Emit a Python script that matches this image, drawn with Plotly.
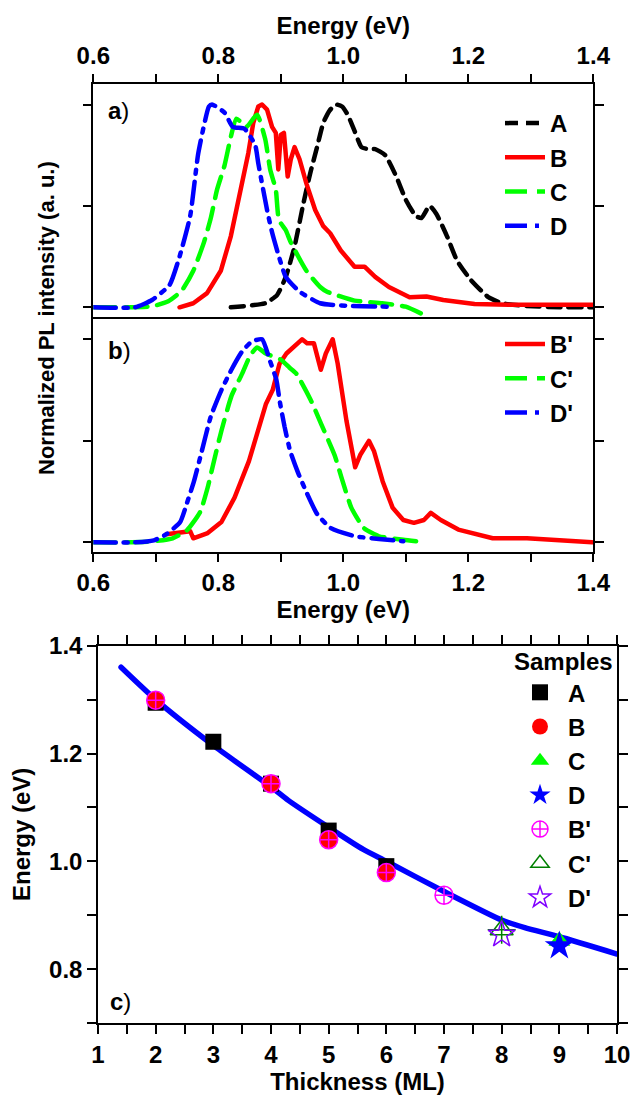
import plotly.graph_objects as go

W, H = 632, 1095

# ---------------- Panel a data ----------------
A_E = [0.82, 0.875, 0.894, 0.908, 0.922, 0.936, 0.947, 0.958, 0.968, 0.978, 0.988, 0.998, 1.007, 1.018,
       1.029, 1.04, 1.051, 1.067, 1.084, 1.1, 1.116, 1.125, 1.138, 1.149, 1.166, 1.182, 1.204, 1.232,
       1.254, 1.29, 1.347, 1.4]
A_I = [0.0, 0.02, 0.06, 0.15, 0.30, 0.51, 0.66, 0.79, 0.91, 0.97, 1.0, 0.99, 0.95, 0.87,
       0.79, 0.78, 0.78, 0.75, 0.65, 0.53, 0.45, 0.44, 0.50, 0.46, 0.35, 0.23, 0.135, 0.05,
       0.02, 0.007, 0.0, 0.0]

B_E = [0.738, 0.76, 0.782, 0.804, 0.82, 0.834, 0.848, 0.856, 0.864, 0.87, 0.878, 0.886, 0.892, 0.896,
       0.9, 0.905, 0.911, 0.916, 0.922, 0.93, 0.941, 0.955, 0.968, 0.979, 0.996, 1.018, 1.034, 1.051,
       1.073, 1.106, 1.133, 1.16, 1.21, 1.265, 1.4]
B_I = [0.0, 0.02, 0.07, 0.18, 0.35, 0.55, 0.76, 0.91, 0.99, 1.0, 0.975, 0.89, 0.86, 0.68,
       0.85, 0.86, 0.645, 0.73, 0.79, 0.73, 0.61, 0.48, 0.40, 0.365, 0.28, 0.20, 0.20, 0.15,
       0.10, 0.05, 0.053, 0.036, 0.016, 0.012, 0.012]

C_E = [0.6, 0.694, 0.72, 0.741, 0.76, 0.777, 0.788, 0.798, 0.81, 0.82, 0.829, 0.845, 0.862, 0.875,
       0.883, 0.892, 0.897, 0.908, 0.916, 0.941, 0.963, 0.974, 1.018, 1.062, 1.1, 1.124]
C_I = [0.0, 0.005, 0.03, 0.08, 0.18, 0.32, 0.44, 0.58, 0.70, 0.84, 0.93, 0.89, 0.95, 0.83,
       0.68, 0.58, 0.43, 0.38, 0.32, 0.18, 0.10, 0.077, 0.033, 0.02, 0.003, -0.03]

D_E = [0.6, 0.667, 0.694, 0.722, 0.738, 0.755, 0.768, 0.785, 0.79, 0.81, 0.823, 0.842, 0.859, 0.864,
       0.878, 0.886, 0.897, 0.908, 0.93, 0.963, 1.007, 1.078]
D_I = [0.0, 0.0, 0.036, 0.11, 0.25, 0.45, 0.76, 0.99, 1.0, 0.96, 0.89, 0.88, 0.80, 0.71,
       0.48, 0.37, 0.25, 0.15, 0.077, 0.02, 0.007, 0.003]

# ---------------- Panel b data ----------------
Bp_E = [0.717, 0.755, 0.76, 0.783, 0.805, 0.826, 0.849, 0.862, 0.876, 0.887, 0.898, 0.909, 0.92, 0.934,
        0.942, 0.953, 0.964, 0.972, 0.983, 0.991, 1.005, 1.019, 1.027, 1.041, 1.049, 1.063, 1.079,
        1.096, 1.113, 1.129, 1.14, 1.156, 1.184, 1.239, 1.294, 1.349, 1.398]
Bp_I = [0.04, 0.055, 0.02, 0.046, 0.10, 0.22, 0.40, 0.53, 0.68, 0.75, 0.88, 0.93, 0.96, 1.0,
        0.98, 0.98, 0.85, 0.93, 1.0, 0.88, 0.60, 0.37, 0.43, 0.50, 0.45, 0.30, 0.17,
        0.11, 0.096, 0.11, 0.145, 0.11, 0.063, 0.02, 0.02, 0.008, 0.0]

Cp_E = [0.6, 0.645, 0.695, 0.727, 0.75, 0.771, 0.783, 0.793, 0.805, 0.821, 0.838, 0.851, 0.862, 0.876,
        0.9, 0.914, 0.925, 0.948, 0.965, 0.986, 0.997, 1.013, 1.033, 1.057, 1.096, 1.118]
Cp_I = [0.0, 0.0, 0.005, 0.02, 0.06, 0.15, 0.27, 0.40, 0.55, 0.72, 0.83, 0.92, 0.96, 0.93,
        0.90, 0.86, 0.83, 0.70, 0.58, 0.43, 0.32, 0.17, 0.07, 0.03, 0.013, 0.005]

Dp_E = [0.6, 0.667, 0.697, 0.717, 0.739, 0.75, 0.761, 0.772, 0.788, 0.805, 0.821, 0.838, 0.854, 0.87,
        0.882, 0.893, 0.898, 0.906, 0.915, 0.928, 0.942, 0.958, 0.98, 1.019, 1.057, 1.096]
Dp_I = [0.0, 0.0, 0.01, 0.04, 0.10, 0.195, 0.30, 0.43, 0.62, 0.75, 0.85, 0.94, 0.99, 1.0,
        0.90, 0.80, 0.70, 0.57, 0.45, 0.34, 0.24, 0.14, 0.07, 0.03, 0.017, 0.005]

# ---------------- Panel c data ----------------
A_ML = [2, 3, 4, 5, 6]
A_En = [1.294, 1.222, 1.144, 1.057, 0.991]
B_ML = [2, 4, 5, 6]
B_En = [1.299, 1.144, 1.04, 0.979]
C_ML = [9]
C_En = [0.852]
D_ML = [9]
D_En = [0.843]
Bp_ML = [2, 4, 5, 6, 7]
Bp_En = [1.299, 1.144, 1.04, 0.979, 0.937]
Cp_ML = [8]
Cp_En = [0.873]
Dp_ML = [8]
Dp_En = [0.864]
Fit_ML = [1.4, 2, 3, 4, 4.3, 5, 5.6, 6, 7, 8, 8.4, 9, 10]
Fit_En = [1.36, 1.30, 1.215, 1.138, 1.113, 1.063, 1.022, 1.0, 0.944, 0.891, 0.877, 0.86, 0.828]

E_ticks = [0.6, 0.7, 0.8, 0.9, 1.0, 1.1, 1.2, 1.3, 1.4]
E_labels = ["0.6", "", "0.8", "", "1.0", "", "1.2", "", "1.4"]
ML_ticks = [1, 1.5, 2, 2.5, 3, 3.5, 4, 4.5, 5, 5.5, 6, 6.5, 7, 7.5, 8, 8.5, 9, 9.5, 10]
ML_labels = ["1", "", "2", "", "3", "", "4", "", "5", "", "6", "", "7", "", "8", "", "9", "", "10"]
Y_ticks = [0.7, 0.8, 0.9, 1.0, 1.1, 1.2, 1.3, 1.4]
Y_labels = ["", "0.8", "", "1.0", "", "1.2", "", "1.4"]

FONT = "Liberation Sans, Arial, sans-serif"
FS = 24

fig = go.Figure()

LW = 4.5
# panel a
fig.add_trace(go.Scatter(x=A_E, y=A_I, mode="lines", name="A", legend="legend", legendgroup="a",
                         line=dict(color="black", width=LW, dash="13px,8px", shape="spline", smoothing=0.5),
                         xaxis="x", yaxis="y"))
fig.add_trace(go.Scatter(x=B_E, y=B_I, mode="lines", name="B", legend="legend", legendgroup="b",
                         line=dict(color="#ff0000", width=LW), xaxis="x", yaxis="y"))
fig.add_trace(go.Scatter(x=C_E, y=C_I, mode="lines", name="C", legend="legend", legendgroup="c",
                         line=dict(color="#00ff00", width=LW, dash="22px,10px", shape="spline", smoothing=0.5),
                         xaxis="x", yaxis="y"))
fig.add_trace(go.Scatter(x=D_E, y=D_I, mode="lines", name="D", legend="legend", legendgroup="d",
                         line=dict(color="#0000ff", width=LW, dash="22px,8px,4px,8px", shape="spline", smoothing=0.5),
                         xaxis="x", yaxis="y"))
# panel b
fig.add_trace(go.Scatter(x=Bp_E, y=Bp_I, mode="lines", name="B'", legend="legend2", legendgroup="bp",
                         line=dict(color="#ff0000", width=LW), xaxis="x2", yaxis="y2"))
fig.add_trace(go.Scatter(x=Cp_E, y=Cp_I, mode="lines", name="C'", legend="legend2", legendgroup="cp",
                         line=dict(color="#00ff00", width=LW, dash="22px,10px", shape="spline", smoothing=0.5),
                         xaxis="x2", yaxis="y2"))
fig.add_trace(go.Scatter(x=Dp_E, y=Dp_I, mode="lines", name="D'", legend="legend2", legendgroup="dp",
                         line=dict(color="#0000ff", width=LW, dash="22px,8px,4px,8px", shape="spline", smoothing=0.5),
                         xaxis="x2", yaxis="y2"))

# panel c
fig.add_trace(go.Scatter(x=Fit_ML, y=Fit_En, mode="lines", showlegend=False,
                         line=dict(color="#0000ff", width=5.5, shape="spline", smoothing=0.6),
                         xaxis="x3", yaxis="y3"))
MS = 18
fig.add_trace(go.Scatter(x=A_ML, y=A_En, mode="markers", name="A", legend="legend3", legendgroup="A3",
                         marker=dict(symbol="square", color="black", size=MS - 2), xaxis="x3", yaxis="y3"))
fig.add_trace(go.Scatter(x=B_ML, y=B_En, mode="markers", name="B", legend="legend3", legendgroup="B3",
                         marker=dict(symbol="circle", color="#ff0000", size=MS), xaxis="x3", yaxis="y3"))
fig.add_trace(go.Scatter(x=C_ML, y=C_En, mode="markers", name="C", legend="legend3", legendgroup="C3",
                         marker=dict(symbol="triangle-up", color="#00ff00", size=MS + 1), xaxis="x3", yaxis="y3"))
fig.add_trace(go.Scatter(x=D_ML, y=D_En, mode="markers", name="D", legend="legend3", legendgroup="D3",
                         marker=dict(symbol="star", color="#0000ff", size=MS + 4), xaxis="x3", yaxis="y3"))
fig.add_trace(go.Scatter(x=Bp_ML, y=Bp_En, mode="markers", name="B'", legend="legend3", legendgroup="Bp3",
                         marker=dict(symbol="circle-cross-open", color="#ff00ff", size=MS, line=dict(width=1.5)),
                         xaxis="x3", yaxis="y3"))
fig.add_trace(go.Scatter(x=Cp_ML, y=Cp_En, mode="markers", name="C'", legend="legend3", legendgroup="Cp3",
                         marker=dict(symbol="triangle-up-open", color="#008000", size=MS + 2, line=dict(width=1.5)),
                         xaxis="x3", yaxis="y3"))
fig.add_trace(go.Scatter(x=Cp_ML, y=Cp_En, mode="markers", showlegend=False, legendgroup="Cp3",
                         marker=dict(symbol="cross-thin-open", color="#008000", size=MS + 2, line=dict(width=1.5, color="#008000")),
                         xaxis="x3", yaxis="y3"))
fig.add_trace(go.Scatter(x=Dp_ML, y=Dp_En, mode="markers", name="D'", legend="legend3", legendgroup="Dp3",
                         marker=dict(symbol="star-open", color="#8000ff", size=MS + 2, line=dict(width=1.5)),
                         xaxis="x3", yaxis="y3"))

axis_common = dict(showline=True, linecolor="black", linewidth=1.5, ticks="outside", ticklen=9,
                   tickwidth=1.5, tickcolor="black", showgrid=False, zeroline=False,
                   tickfont=dict(family=FONT, size=FS, color="black", weight="bold"),
                   title_font=dict(family=FONT, size=FS, color="black", weight="bold"),
                   automargin=False)

xab_dom = [93.3 / W, 593.3 / W]
ya_dom = [1 - 319 / H, 1 - 84.3 / H]
yb_dom = [1 - 551.7 / H, 1 - 319 / H]
xc_dom = [98 / W, 617 / W]
yc_dom = [1 - 1023 / H, 1 - 645.7 / H]

leg_font = dict(family=FONT, size=FS, color="black", weight="bold")

fig.update_layout(
    width=W, height=H,
    margin=dict(l=0, r=0, t=0, b=0),
    paper_bgcolor="white", plot_bgcolor="white",
    font=dict(family=FONT, size=FS, color="black"),
    xaxis=dict(axis_common, domain=xab_dom, range=[0.6, 1.4], anchor="y", side="top", mirror=False,
               tickmode="array", tickvals=E_ticks, ticktext=E_labels,
               title=dict(text="Energy (eV)", standoff=1)),
    yaxis=dict(axis_common, domain=ya_dom, range=[-0.0577, 1.0996], anchor="x", mirror="ticks",
               tickmode="array", tickvals=[0, 0.5, 1], ticktext=["", "", ""]),
    xaxis2=dict(axis_common, domain=xab_dom, range=[0.6, 1.4], anchor="y2", mirror=True,
                tickmode="array", tickvals=E_ticks, ticktext=E_labels,
                title=dict(text="Energy (eV)", standoff=3)),
    yaxis2=dict(axis_common, domain=yb_dom, range=[-0.046, 1.1], anchor="x2", mirror="ticks",
                tickmode="array", tickvals=[0, 0.5, 1], ticktext=["", "", ""]),
    xaxis3=dict(axis_common, domain=xc_dom, range=[1, 10], anchor="y3", mirror="ticks",
                tickmode="array", tickvals=ML_ticks, ticktext=ML_labels,
                title=dict(text="Thickness (ML)", standoff=6)),
    yaxis3=dict(axis_common, domain=yc_dom, range=[0.7, 1.4], anchor="x3", mirror="ticks",
                tickmode="array", tickvals=Y_ticks, ticktext=Y_labels,
                title=dict(text="Energy (eV)", standoff=12)),
    legend=dict(x=500 / W, y=1 - 101 / H, xanchor="left", yanchor="top", bgcolor="rgba(0,0,0,0)",
                font=leg_font, traceorder="grouped", tracegroupgap=0, itemwidth=40),
    legend2=dict(x=500 / W, y=1 - 322 / H, xanchor="left", yanchor="top", bgcolor="rgba(0,0,0,0)",
                 font=leg_font, traceorder="grouped", tracegroupgap=0, itemwidth=40),
    legend3=dict(x=512 / W, y=1 - 639 / H, xanchor="left", yanchor="top", bgcolor="rgba(0,0,0,0)",
                 font=leg_font, title=dict(text="Samples", font=leg_font),
                 traceorder="grouped", tracegroupgap=0, itemwidth=46),
    annotations=[
        dict(text="Normalized PL intensity (a. u.)", x=47 / W, y=1 - 318 / H, xref="paper", yref="paper",
             xanchor="center", yanchor="middle",
             textangle=-90, showarrow=False, font=dict(family=FONT, size=22, color="black", weight="bold")),
        dict(text="<b>a</b>)", x=106 / W, y=1 - 110 / H, xref="paper", yref="paper", xanchor="left",
             yanchor="middle", showarrow=False, font=dict(family=FONT, size=FS, color="black")),
        dict(text="<b>b</b>)", x=106 / W, y=1 - 350 / H, xref="paper", yref="paper", xanchor="left",
             yanchor="middle", showarrow=False, font=dict(family=FONT, size=FS, color="black")),
        dict(text="<b>c</b>)", x=108 / W, y=1 - 1001 / H, xref="paper", yref="paper", xanchor="left",
             yanchor="middle", showarrow=False, font=dict(family=FONT, size=FS, color="black")),
    ],
)

post = ("document.body.style.margin='0';document.body.style.padding='0';"
        "document.querySelectorAll('.scatterlayer path.js-line').forEach(function(p){"
        "p.style.strokeLinecap='round';p.style.strokeLinejoin='round';});")
fig.write_html("out.html", post_script=post, config={"displayModeBar": False})
